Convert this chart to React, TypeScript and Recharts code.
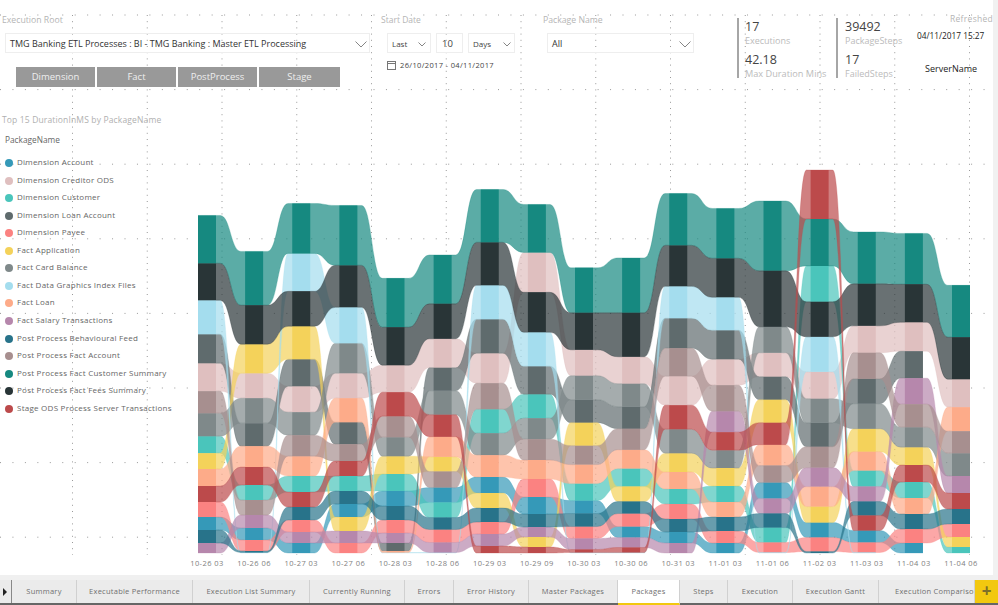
import React from "react"
import { AreaChart, Area, XAxis, YAxis } from "recharts"

const categories = ["10-26 03", "10-26 06", "10-27 03", "10-27 06", "10-28 03", "10-28 06", "10-29 03", "10-29 09", "10-30 03", "10-30 06", "10-31 03", "11-01 03", "11-01 06", "11-02 03", "11-03 03", "11-04 03", "11-04 06"]

const seriesCodes = ["DA", "DC", "DU", "DL", "DP", "FA", "FC", "FD", "FL", "FS", "PB", "PA", "PC", "PF", "SO"]
const seriesNames = ["Dimension Account", "Dimension Creditor ODS", "Dimension Customer", "Dimension Loan Account", "Dimension Payee", "Fact Application", "Fact Card Balance", "Fact Data Graphics Index Files", "Fact Loan", "Fact Salary Transactions", "Post Process Behavioural Feed", "Post Process Fact Account", "Post Process Fact Customer Summary", "Post Process Fact Fees Summary", "Stage ODS Process Server Transactions"]
const seriesColors = ["#3599B8", "#DFBFBF", "#4AC5BB", "#5F6B6D", "#FB8281", "#F4D25A", "#7F898A", "#A4DDEE", "#FDAB89", "#B687AC", "#28738A", "#A78F8F", "#168980", "#293537", "#BC4A4B"]

// duration per package, one value per category
const DA = [13, 12, 10, 13, 15, 15, 16, 17, 13, 11, 11, 10, 16, 15, 12, 10, null]
const DC = [28, 25, 26, 25, 27, 29, 30, 40, 26, 27, 29, 26, 24, 27, 27, 29, 28]
const DU = [17, 15, 16, 15, 17, 15, 24, 24, 17, 18, 15, 16, 15, 36, 16, 16, 6]
const DL = [29, 23, 27, 22, 8, 23, 34, 28, 23, 22, 30, 29, 23, 24, 25, 27, null]
const DP = [15, 11, 12, 10, 13, 13, 12, 18, 12, 13, 15, 12, 10, 14, 10, 14, 13]
const FA = [16, 29, 33, 14, 18, 15, 15, 10, 23, 15, 19, 18, 23, 16, 23, 18, 10]
const FC = [23, 25, 23, 30, 19, 24, 22, 21, 24, 23, 24, 18, 26, 24, 25, 20, 23]
const FD = [34, 0.5, 38, 36, 0.5, 0.5, 34, 34, 0.5, 0.5, 32, 33, 0.5, 35, 0.5, null, null]
const FL = [17, 21, 20, 24, 1.5, 20, 22, 19, 19, 19, 17, 15, 21, 20, 19, 16, 24]
const FS = [10, 13, 11, 12, 10, 10, 12, 10, 11, 10, 10, 21, 15, 19, 15, 26, 17]
const PB = [13, 1.5, 13, 13, 14, 12, 14, 13, 13, 12, 13, 14, 14, 1.5, 14, 15, 15]
const PA = [22, 15, 21, 17, 21, 16, 26, 21, 19, 21, 28, 26, 17, 21, 26, 23, 22]
const PC = [48, 54, 50, 60, 49, 49, 53, 48, 45, 55, 52, 50, 70, 47, 52, 51, 52]
const PF = [37, 39, 35, 42, 38, 35, 43, 40, 37, 44, 41, 39, 56, 35, 42, 38, 42]
const SO = [16, 18, 15, 15, 24, 22, 7, 6, 3, 5, 24, 18, 22, 49, 15, 17, 16]

const seriesValues: Record<string, (number | null)[]> = { DA, DC, DU, DL, DP, FA, FC, FD, FL, FS, PB, PA, PC, PF, SO }

// ribbon rank in each category, top to bottom
const ranks = [
  "PC PF FD DL DC PA FC DU FA FL SO DP DA PB FS",
  "PC PF FA DC FC DL FL SO DU PA FS DA DP PB FD",
  "PC FD PF FA DL DC FC PA FL DU SO PB DP FS DA",
  "PC PF FD FC DC FL DL PA SO DU PB DA FA FS DP",
  "PC PF DC SO PA FC FA DU DA PB DP FS DL FL FD",
  "PC PF DC DL FC SO FL FA PA DA DU PB DP FS FD",
  "PC PF FD DL DC PA DU FC FL DA FA PB DP FS SO",
  "PC DC PF FD DL DU FC PA FL DP DA PB FS FA SO",
  "PC PF DC FC DL FA PA FL DU DA PB DP FS SO FD",
  "PC PF DC FC DL PA FL DU FA PB DP DA FS SO FD",
  "PC PF FD DL PA DC SO FC FA FL DU DP PB DA FS",
  "PC PF FD DL DC PA FS SO FC FA DU FL PB DP DA",
  "PC PF FC DC DL FA SO FL PA DA FS PB DU DP FD",
  "SO PC DU PF FD DC FC DL PA FS FL FA DA DP PB",
  "PC PF DC PA DL FC FA FL DU FS PB SO DA DP FD",
  "PC PF DC DL FS PA FC FA SO DU FL PB DP DA",
  "PC PF DC FL PA FC FS SO PB DP FA DU",
]

const tabs = ["Summary", "Executable Performance", "Execution List Summary", "Currently Running", "Errors", "Error History", "Master Packages", "Packages", "Steps", "Execution", "Execution Gantt", "Execution Comparison"]
const tabEdges = [12, 77, 193, 310, 405, 454, 529, 618, 680, 728, 793, 879, 975]
const filterButtons = ["Dimension", "Fact", "PostProcess", "Stage"]

const COL = 0.191
const FLAT = 0.28
const W = 998
const H = 605

// [bottom, top] of one package's band in one category
const bands: Record<string, ([number, number] | null)[]> = {}
seriesCodes.forEach(c => { bands[c] = categories.map(() => null) })
ranks.forEach((r, i) => {
  let top = r.split(" ").reduce((sum, c) => sum + (seriesValues[c][i] || 0), 0)
  r.split(" ").forEach(c => {
    const v = seriesValues[c][i] || 0
    bands[c][i] = [top - v, top]
    top -= v
  })
})

const rows: any[] = []
categories.forEach((_, i) => {
  const row = (x: number, edge: boolean, next: number) => {
    const r: any = { x }
    seriesCodes.forEach(c => {
      const band = bands[c][i]
      r["r" + c] = band && (next < 0 || bands[c][next]) ? band : null
      r["c" + c] = edge ? band : null
    })
    rows.push(r)
  }
  if (i > 0) row(i - FLAT, false, i - 1)
  row(i - COL, true, -1)
  row(i + COL, true, -1)
  if (i < categories.length - 1) row(i + FLAT, false, i + 1)
})

const label = (left: number, top: number, size: number, color: string, extra?: React.CSSProperties): React.CSSProperties => ({
  position: "absolute", left, top, fontSize: size, color, lineHeight: "14px", whiteSpace: "nowrap", ...extra,
})

function Chevron({ x, y, w = 10 }: { x: number; y: number; w?: number }) {
  return (
    <svg style={{ position: "absolute", left: x, top: y }} width={w} height={w / 2 + 1}>
      <polyline points={`0.5,0.5 ${w / 2},${w / 2} ${w - 0.5},0.5`} fill="none" stroke="#666" strokeWidth={0.8} />
    </svg>
  )
}

function Box({ x, y, w, h }: { x: number; y: number; w: number; h: number }) {
  return <div style={{ position: "absolute", left: x, top: y, width: w, height: h, border: "1px solid #eeeeee", boxSizing: "border-box" }} />
}

function DotGrid() {
  const xs = [...Array(13).keys()].map(k => 72.5 + 74.75 * k)
  const ys = [...Array(8).keys()].map(k => 15 + 74.6 * k)
  return (
    <svg style={{ position: "absolute", left: 0, top: 0 }} width={993} height={575}>
      {xs.map(x => <line key={x} x1={x} x2={x} y1={15} y2={555} stroke="#999" strokeWidth={1} strokeDasharray="1 5.2" />)}
      {ys.map(y => <line key={y} x1={0} x2={993} y1={y} y2={y} stroke="#999" strokeWidth={1} strokeDasharray="1 11.45" />)}
    </svg>
  )
}

const cardValue: React.CSSProperties = { lineHeight: "13px" }
const cardName: React.CSSProperties = { lineHeight: "11px" }

export default function App() {
  return (
    <div style={{ position: "absolute", left: 0, top: 0, width: W, height: H, overflow: "hidden", background: "#fff", fontFamily: "'Open Sans', sans-serif" }}>
      <div style={{ position: "absolute", left: 993, top: 0, width: 5, height: 575, background: "#f1f1f1" }} />
      <DotGrid />

      <div style={label(2, 13, 8.7, "#b5b5b5")}>Execution Root</div>
      <Box x={5} y={33} w={365} h={20} />
      <div style={label(10, 37, 9, "#333")}>TMG Banking ETL Processes : BI - TMG Banking : Master ETL Processing</div>
      <Chevron x={355} y={41} w={12} />
      {filterButtons.map((b, i) => (
        <div key={b} style={{ position: "absolute", left: 16 + i * 81, top: 67, width: i === 3 ? 81 : 79, height: 20, background: "#999", color: "#eee", fontSize: 9.5, lineHeight: "20px", textAlign: "center" }}>{b}</div>
      ))}

      <div style={label(381, 13, 8.5, "#b5b5b5")}>Start Date</div>
      <Box x={387} y={33} w={44} h={20} />
      <div style={label(392, 37, 8, "#444")}>Last</div>
      <Chevron x={418} y={42} w={8} />
      <Box x={436} y={33} w={27} h={20} />
      <div style={label(442, 37, 9.5, "#444")}>10</div>
      <Box x={468} y={33} w={47} h={20} />
      <div style={label(473, 37, 8, "#444")}>Days</div>
      <Chevron x={503} y={42} w={8} />
      <svg style={{ position: "absolute", left: 387, top: 60 }} width={10} height={10}>
        <rect x={0.5} y={1.5} width={8} height={8} fill="#fff" stroke="#777" />
        <line x1={0} x2={9} y1={3.5} y2={3.5} stroke="#777" />
      </svg>
      <div style={label(400, 58, 7.5, "#444", { letterSpacing: 0.35 })}>26/10/2017 - 04/11/2017</div>

      <div style={label(543, 13, 8.7, "#b5b5b5")}>Package Name</div>
      <Box x={547} y={33} w={147} h={20} />
      <div style={label(552, 37, 9, "#333")}>All</div>
      <Chevron x={679} y={41} w={12} />

      <div style={{ position: "absolute", left: 737, top: 18, width: 2, height: 60, background: "#a6a6a6" }} />
      <div style={{ position: "absolute", left: 836, top: 18, width: 2, height: 60, background: "#a6a6a6" }} />
      <div style={label(745, 20, 12.5, "#444", cardValue)}>17</div>
      <div style={label(745, 34.5, 9, "#bbb", cardName)}>Executions</div>
      <div style={label(745, 53, 12.5, "#444", cardValue)}>42.18</div>
      <div style={label(745, 67.5, 9.2, "#bbb", cardName)}>Max Duration Mins</div>
      <div style={label(845, 20, 12.5, "#444", cardValue)}>39492</div>
      <div style={label(845, 34.5, 9, "#bbb", cardName)}>PackageSteps</div>
      <div style={label(845, 53, 12.5, "#444", cardValue)}>17</div>
      <div style={label(845, 67.5, 9, "#bbb", cardName)}>FailedSteps</div>
      <div style={label(950, 12, 8.5, "#b5b5b5", { letterSpacing: 0.3 })}>Refreshed</div>
      <div style={label(917, 29, 8.3, "#222")}>04/11/2017 15:27</div>
      <div style={label(925, 62, 9, "#222")}>ServerName</div>

      <div style={label(2, 113, 8.5, "#b0b0b0", { letterSpacing: 0.15 })}>Top 15 DurationInMS by PackageName</div>
      <div style={label(5, 133, 8.3, "#666")}>PackageName</div>
      {seriesNames.map((name, i) => (
        <React.Fragment key={name}>
          <div style={{ position: "absolute", left: 5, top: 159 + i * 17.55, width: 8, height: 8, borderRadius: 4, background: seriesColors[i] }} />
          <div style={label(17, 155 + i * 17.55, 8, "#666", { letterSpacing: 0.25 })}>{name}</div>
        </React.Fragment>
      ))}

      <AreaChart
        style={{ position: "absolute", left: 0, top: 0 }}
        width={W}
        height={H}
        data={rows}
        margin={{ top: 170, right: 28, bottom: 22, left: 198 }}
      >
        <XAxis
          dataKey="x"
          type="number"
          domain={[-COL, categories.length - 1 + COL]}
          ticks={categories.map((_, i) => i)}
          tickFormatter={(i: number) => categories[i]}
          interval={0}
          height={30}
          axisLine={false}
          tickLine={false}
          tickMargin={2}
          tick={{ fontSize: 7.5, fill: "#808080", letterSpacing: 0.45 }}
        />
        <YAxis hide domain={[0, 383]} />
        {seriesCodes.map((c, i) => (
          <Area key={"r" + c} dataKey={"r" + c} type="bumpX" fill={seriesColors[i]} fillOpacity={0.7} stroke={seriesColors[i]} strokeOpacity={0.45} strokeWidth={0.6} dot={false} activeDot={false} isAnimationActive={false} />
        ))}
        {seriesCodes.map((c, i) => (
          <Area key={"c" + c} dataKey={"c" + c} type="linear" fill={seriesColors[i]} fillOpacity={1} stroke="none" dot={false} activeDot={false} isAnimationActive={false} />
        ))}
      </AreaChart>

      <div style={{ position: "absolute", left: 0, top: 575, width: W, height: 5, background: "#f0f0f0" }} />
      <div style={{ position: "absolute", left: 0, top: 580, width: W, height: 23, background: "#ebebeb" }} />
      <div style={{ position: "absolute", left: 0, top: 603, width: W, height: 2, background: "#666" }} />
      <svg style={{ position: "absolute", left: 2, top: 588 }} width={6} height={8}>
        <polygon points="1,0 5,4 1,8" fill="#222" />
      </svg>
      <div style={{ position: "absolute", left: 11, top: 580, width: 1, height: 23, background: "#888" }} />
      {tabs.map((t, i) => {
        const active = t === "Packages"
        const last = i === tabs.length - 1
        return (
          <div key={t} style={{
            position: "absolute", left: tabEdges[i], top: 580, width: tabEdges[i + 1] - tabEdges[i], height: active ? 25 : 23,
            background: active ? "#fff" : "transparent", borderRight: "1px solid #d0d0d0", boxSizing: "border-box",
            borderBottom: active ? "2px solid #F2C80F" : "none", paddingLeft: last ? 16 : 0,
            fontSize: 7.5, lineHeight: "23px", color: "#707070", textAlign: last ? "left" : "center", whiteSpace: "nowrap", overflow: "hidden", letterSpacing: 0.25,
          }}>{t}</div>
        )
      })}
      <div style={{ position: "absolute", left: 975, top: 580, width: 23, height: 23, background: "#F2C80F", color: "#7d6f2a", fontSize: 17, fontWeight: 700, lineHeight: "21px", textAlign: "center" }}>+</div>
    </div>
  )
}
